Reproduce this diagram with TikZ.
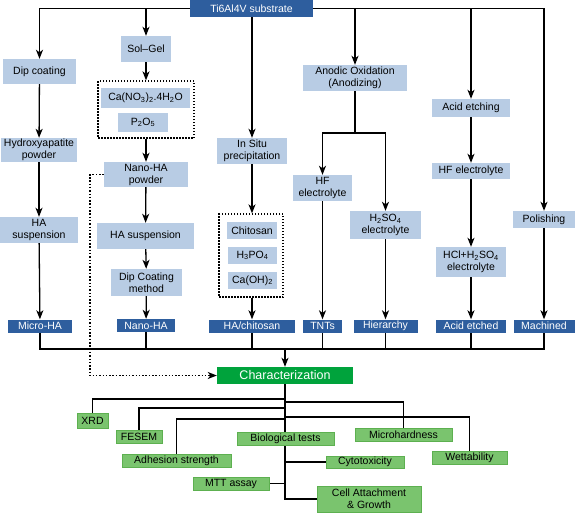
\documentclass[tikz,border=0pt]{standalone}
\usepackage{fontspec}
\setmainfont{Liberation Sans}
\usetikzlibrary{arrows.meta,backgrounds}
\definecolor{lblue}{HTML}{B8CCE4}
\definecolor{dblue}{HTML}{2E5E9E}
\definecolor{cgreen}{HTML}{00A33C}
\definecolor{lgreen}{HTML}{7AC46E}
\definecolor{lgreenb}{HTML}{5DB050}
\begin{document}
\begin{tikzpicture}[x=1pt,y=-1pt,
  box/.style={inner sep=0pt, align=center, font=\fontsize{10.5}{12}\selectfont},
  lb/.style={box, fill=lblue},
  db/.style={box, fill=dblue, text=white},
  lg/.style={box, fill=lgreen, draw=lgreenb, line width=0.6pt},
  gb/.style={box, fill=cgreen, text=white, font=\fontsize{12.5}{14}\selectfont},
  dotbox/.style={draw, line width=1.3pt, dash pattern=on 1.5pt off 1.5pt, inner sep=0pt},
  conn/.style={line width=1.3pt},
  arr/.style={conn, -{Stealth[length=9pt,width=7pt,inset=2.5pt]}},
  dotarr/.style={line width=1.4pt, dash pattern=on 1.5pt off 1.8pt, -{Stealth[length=9pt,width=7pt,inset=2.5pt]}}
]
\useasboundingbox (0,0) rectangle (575,512);
% top
\node[db, minimum width=123pt, minimum height=17pt] (ti) at (251.5,8.5) {Ti6Al4V substrate};
% column 1
\node[lb, minimum width=73pt, minimum height=25pt] (dip) at (39.5,71.5) {Dip coating};
\node[lb, minimum width=76pt, minimum height=24pt] (hap) at (39,150) {Hydroxyapatite\\powder};
\node[lb, minimum width=78pt, minimum height=26pt] (hasus1) at (39,230) {HA\\suspension};
\node[db, minimum width=64pt, minimum height=13pt] (micro) at (40,326) {Micro-HA};
% column 2
\node[lb, minimum width=50pt, minimum height=26pt] (solgel) at (146,49) {Sol--Gel};
\node[dotbox, minimum width=96pt, minimum height=57pt] (dot1) at (146,109.5) {};
\node[lb, minimum width=89pt, minimum height=20pt] (ca) at (145.5,98) {Ca(NO\textsubscript{3})\textsubscript{2}.4H\textsubscript{2}O};
\node[lb, minimum width=50pt, minimum height=19pt] (p2o5) at (143,122.5) {P\textsubscript{2}O\textsubscript{5}};
\node[lb, minimum width=84pt, minimum height=25pt] (nanopow) at (146,174.5) {Nano-HA\\powder};
\node[lb, minimum width=97pt, minimum height=26pt] (hasus2) at (145.5,236) {HA suspension};
\node[lb, minimum width=71pt, minimum height=27pt] (dipm) at (146.5,282.5) {Dip Coating\\method};
\node[db, minimum width=58pt, minimum height=13pt] (nanoha) at (146,325.5) {Nano-HA};
% column 3
\node[lb, minimum width=70pt, minimum height=26pt] (insitu) at (252,151) {In Situ\\precipitation};
\node[dotbox, minimum width=64pt, minimum height=83pt] (dot2) at (251,255.5) {};
\node[lb, minimum width=50pt, minimum height=17pt] (chit) at (252,230.5) {Chitosan};
\node[lb, minimum width=49pt, minimum height=17pt] (h3po4) at (252.5,255.5) {H\textsubscript{3}PO\textsubscript{4}};
\node[lb, minimum width=49pt, minimum height=17pt] (caoh) at (252.5,280.5) {Ca(OH)\textsubscript{2}};
\node[db, minimum width=86pt, minimum height=13pt] (hachit) at (252,326) {HA/chitosan};
% anodic
\node[lb, minimum width=104pt, minimum height=26pt] (anodic) at (355,78) {Anodic Oxidation\\(Anodizing)};
\node[lb, minimum width=59pt, minimum height=26pt] (hf1) at (322.5,188) {HF\\electrolyte};
\node[lb, minimum width=71pt, minimum height=28pt] (h2so4) at (385.5,225) {H\textsubscript{2}SO\textsubscript{4}\\electrolyte};
\node[db, minimum width=39pt, minimum height=13pt] (tnts) at (322.5,326) {TNTs};
\node[db, minimum width=64pt, minimum height=13pt] (hier) at (385.5,326) {Hierarchy};
% acid
\node[lb, minimum width=78pt, minimum height=18pt] (acid) at (471,108) {Acid etching};
\node[lb, minimum width=78pt, minimum height=16pt] (hf2) at (471,171) {HF electrolyte};
\node[lb, minimum width=70pt, minimum height=30pt] (hcl) at (471,262) {HCl+H\textsubscript{2}SO\textsubscript{4}\\electrolyte};
\node[db, minimum width=70pt, minimum height=13pt] (acidet) at (471,326) {Acid etched};
% polishing
\node[lb, minimum width=62pt, minimum height=17pt] (polish) at (544,219.5) {Polishing};
\node[db, minimum width=61pt, minimum height=13pt] (machined) at (544,326) {Machined};
% characterization
\node[gb, minimum width=136pt, minimum height=17pt] (char) at (285,375.5) {Characterization};
\node[lg, minimum width=31pt, minimum height=15pt] (xrd) at (92.5,420.5) {XRD};
\node[lg, minimum width=46pt, minimum height=13pt] (fesem) at (139,437) {FESEM};
\node[lg, minimum width=109pt, minimum height=13pt] (adh) at (176.5,460.5) {Adhesion strength};
\node[lg, minimum width=97pt, minimum height=13pt] (bio) at (285.5,438.5) {Biological tests};
\node[lg, minimum width=97pt, minimum height=13pt] (mh) at (403.5,434.5) {Microhardness};
\node[lg, minimum width=75pt, minimum height=13pt] (wett) at (469.5,457.5) {Wettability};
\node[lg, minimum width=78pt, minimum height=12pt] (cyto) at (365,462) {Cytotoxicity};
\node[lg, minimum width=76pt, minimum height=13pt] (mtt) at (231,483.5) {MTT assay};
\node[lg, minimum width=104pt, minimum height=26pt] (cell) at (369,499) {Cell Attachment\\\& Growth};
% connectors
\coordinate (split) at (355,133);
\coordinate (bus) at (285,349);
\coordinate (txrd) at (285,399);
\coordinate (tmh) at (285,402);
\coordinate (tfesem) at (285,408);
\coordinate (twett) at (285,417);
\coordinate (tadh) at (285,419);
\begin{scope}[on background layer]
\draw[arr] (ti.west) -| (dip.north);
\draw[arr] (ti.east) -| (polish.north);
\draw[arr] (solgel |- ti.west) -- (solgel.north);
\draw[arr] (ti.south -| insitu) -- (insitu.north);
\draw[arr] (anodic |- ti.east) -- (anodic.north);
\draw[arr] (acid |- ti.east) -- (acid.north);
\draw[arr] (dip) -- (hap);
\draw[arr] (hap) -- (hasus1);
\draw[arr] (hasus1) -- (micro);
\draw[arr] (solgel) -- (dot1);
\draw[arr] (dot1) -- (nanopow);
\draw[arr] (nanopow) -- (hasus2);
\draw[arr] (hasus2) -- (dipm);
\draw[arr] (dipm) -- (nanoha);
\draw[arr] (insitu.south) -- (dot2.north -| insitu);
\draw[arr] (dot2.south -| hachit) -- (hachit.north);
\draw[conn] (anodic.south) -- (split);
\draw[arr] (split) -| (hf1.north);
\draw[arr] (split) -| (h2so4.north);
\draw[arr] (hf1) -- (tnts);
\draw[arr] (h2so4) -- (hier);
\draw[arr] (acid) -- (hf2);
\draw[arr] (hf2) -- (hcl);
\draw[arr] (hcl) -- (acidet);
\draw[arr] (polish) -- (machined);
\draw[conn] (micro.south) |- (machined.south |- bus) -- (machined.south);
\foreach \n in {nanoha,hachit,tnts,hier,acidet} \draw[conn] (\n.south) -- (\n.south |- bus);
\draw[arr] (bus) -- (char.north);
\draw[dotarr] (nanopow.west) -- ++(-14,0) |- (char.west);
\draw[conn] (char.south) |- (cell.west);
\draw[conn] (txrd) -| (xrd.north);
\draw[conn] (tmh) -| (mh.north);
\draw[conn] (tfesem) -| (fesem.north);
\draw[conn] (twett) -| (wett.north);
\draw[conn] (tadh) -| (adh.north);
\draw[conn] (cyto.west) -- (cyto.west -| char.south);
\draw[conn] (mtt.east) -- (mtt.east -| char.south);
\end{scope}
\end{tikzpicture}
\end{document}
